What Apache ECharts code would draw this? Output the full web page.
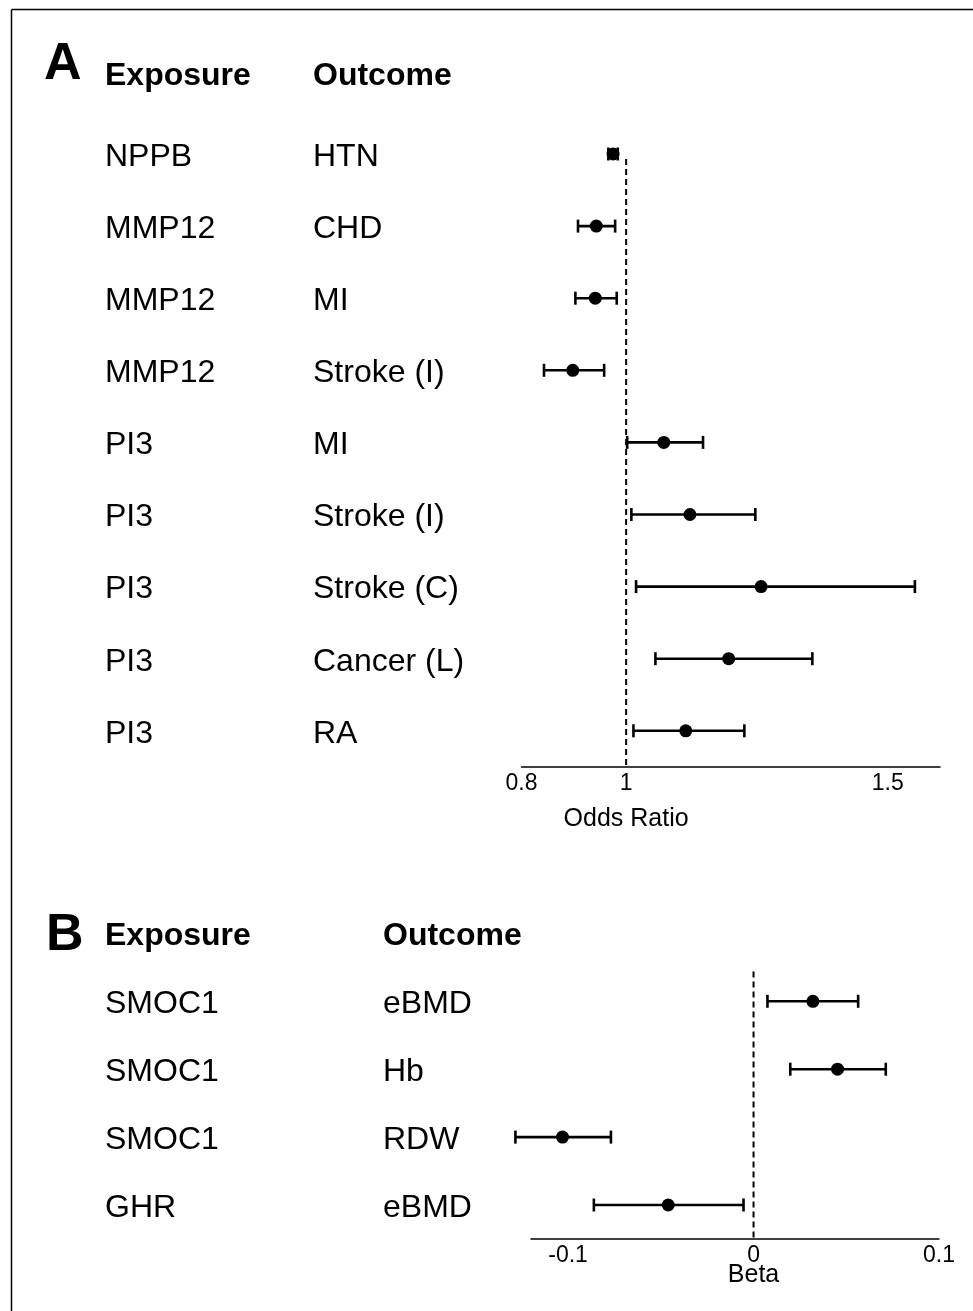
<!DOCTYPE html>
<html>
<head>
<meta charset="utf-8">
<script src="https://cdn.jsdelivr.net/npm/echarts@6/dist/echarts.min.js"></script>
<style>
  html, body { margin: 0; padding: 0; background: #fff; }
  #main { width: 973px; height: 1311px; }
</style>
</head>
<body>
<div id="main"></div>
<script>
// panel A: odds ratios
const exposureA = ['NPPB', 'MMP12', 'MMP12', 'MMP12', 'PI3', 'PI3', 'PI3', 'PI3', 'PI3'];
const outcomeA = ['HTN', 'CHD', 'MI', 'Stroke (I)', 'MI', 'Stroke (I)', 'Stroke (C)', 'Cancer (L)', 'RA'];
const orA = [0.975, 0.943, 0.941, 0.898, 1.072, 1.122, 1.258, 1.196, 1.114];
const lowerA = [0.966, 0.908, 0.903, 0.843, 1.002, 1.010, 1.019, 1.056, 1.014];
const upperA = [0.984, 0.979, 0.982, 0.958, 1.147, 1.247, 1.552, 1.356, 1.226];
const ticksA = [0.8, 1, 1.5];
const refA = [0.07, 8.5];

// panel B: beta
const exposureB = ['SMOC1', 'SMOC1', 'SMOC1', 'GHR'];
const outcomeB = ['eBMD', 'Hb', 'RDW', 'eBMD'];
const betaB = [0.032, 0.0453, -0.103, -0.046];
const lowerB = [0.0075, 0.0198, -0.1284, -0.0861];
const upperB = [0.0564, 0.0713, -0.0769, -0.0054];
const ticksB = [-0.1, 0, 0.1];
const refB = [-0.44, 3.5];

const FONT = '"Liberation Sans", Arial, sans-serif';

const chart = echarts.init(document.getElementById('main'));

function ciSeries(lo, hi, xi, yi) {
  return {
    type: 'custom',
    xAxisIndex: xi, yAxisIndex: yi,
    clip: false,
    data: lo.map((v, i) => [v, hi[i], i]),
    encode: {x: [0, 1], y: 2},
    renderItem: (params, api) => {
      const a = api.coord([api.value(0), api.value(2)]);
      const b = api.coord([api.value(1), api.value(2)]);
      const st = {stroke: '#000', lineWidth: 2.6};
      return {
        type: 'group',
        children: [
          {type: 'line', shape: {x1: a[0], y1: a[1], x2: b[0], y2: b[1]}, style: st},
          {type: 'line', shape: {x1: a[0], y1: a[1] - 6.5, x2: a[0], y2: a[1] + 6.5}, style: st},
          {type: 'line', shape: {x1: b[0], y1: b[1] - 6.5, x2: b[0], y2: b[1] + 6.5}, style: st}
        ]
      };
    },
    z: 3
  };
}

// headerRow: row position used for the bold column headers
function textSeries(labels, col, xi, yi, headerRow) {
  const bold = headerRow !== undefined;
  return {
    type: 'custom',
    xAxisIndex: xi, yAxisIndex: yi,
    clip: false,
    silent: true,
    data: labels.map((t, i) => [col, bold ? headerRow : i]),
    renderItem: (params, api) => {
      const p = api.coord([api.value(0), api.value(1)]);
      return {
        type: 'text', x: p[0], y: p[1] + 3,
        style: {
          text: labels[params.dataIndex],
          fill: '#000',
          font: (bold ? 'bold 32px ' : '32px ') + FONT,
          align: 'left', verticalAlign: 'middle'
        }
      };
    }
  };
}

function refSeries(x, rows, xi, yi) {
  return {
    type: 'line', xAxisIndex: xi, yAxisIndex: yi,
    data: rows.map(r => [x, r]),
    symbol: 'none', silent: true,
    lineStyle: {color: '#000', width: 2, type: [6, 4]},
    z: 1
  };
}

function pointSeries(vals, xi, yi) {
  return {
    type: 'scatter', xAxisIndex: xi, yAxisIndex: yi, clip: false,
    data: vals.map((v, i) => [v, i]),
    symbol: 'circle', symbolSize: 13,
    itemStyle: {color: '#000', opacity: 1},
    z: 4
  };
}

function plotXAxis(grid, min, max, ticks) {
  return {
    gridIndex: grid, type: 'value', min: min, max: max, position: 'bottom',
    splitLine: {show: false}, axisTick: {show: false},
    axisLine: {onZero: false, lineStyle: {color: '#000', width: 1.5}},
    axisLabel: {customValues: ticks, color: '#000', fontSize: 23, fontFamily: FONT, margin: 5}
  };
}

const option = {
  animation: false,
  backgroundColor: '#fff',
  grid: [
    {left: 521.5, width: 418.5, top: 45.85, height: 721},   // A plot
    {left: 105, width: 208, top: 45.85, height: 721},       // A text
    {left: 531, width: 408, top: 899.45, height: 339.5},    // B plot
    {left: 105, width: 278, top: 899.45, height: 339.5}     // B text
  ],
  xAxis: [
    plotXAxis(0, 0.8, 1.6, ticksA),
    {gridIndex: 1, type: 'value', min: 0, max: 1, show: false},
    plotXAxis(2, -0.12, 0.1, ticksB),
    {gridIndex: 3, type: 'value', min: 0, max: 1, show: false}
  ],
  yAxis: [
    {gridIndex: 0, type: 'value', min: -1.5, max: 8.5, inverse: true, show: false},
    {gridIndex: 1, type: 'value', min: -1.5, max: 8.5, inverse: true, show: false},
    {gridIndex: 2, type: 'value', min: -1.5, max: 3.5, inverse: true, show: false},
    {gridIndex: 3, type: 'value', min: -1.5, max: 3.5, inverse: true, show: false}
  ],
  series: [
    refSeries(1, refA, 0, 0),
    ciSeries(lowerA, upperA, 0, 0),
    pointSeries(orA, 0, 0),
    textSeries(['Exposure'], 0, 1, 1, -1.12),
    textSeries(['Outcome'], 1, 1, 1, -1.12),
    textSeries(exposureA, 0, 1, 1),
    textSeries(outcomeA, 1, 1, 1),

    refSeries(0, refB, 2, 2),
    ciSeries(lowerB, upperB, 2, 2),
    pointSeries(betaB, 2, 2),
    textSeries(['Exposure'], 0, 3, 3, -1),
    textSeries(['Outcome'], 1, 3, 3, -1),
    textSeries(exposureB, 0, 3, 3),
    textSeries(outcomeB, 1, 3, 3)
  ]
};

chart.setOption(option);

// axis titles centred on the reference value, panel letters, frame
const pA = chart.convertToPixel({gridIndex: 0}, [1, 8.5]);
const pB = chart.convertToPixel({gridIndex: 2}, [0, 3.5]);
chart.setOption({
  graphic: [
    {type: 'line', shape: {x1: 11.5, y1: 9.5, x2: 973, y2: 9.5}, style: {stroke: '#000', lineWidth: 1.5}},
    {type: 'line', shape: {x1: 11.5, y1: 9.5, x2: 11.5, y2: 1311}, style: {stroke: '#000', lineWidth: 1.5}},
    {type: 'text', x: 44, y: 65, style: {text: 'A', font: 'bold 52px ' + FONT, fill: '#000', verticalAlign: 'middle'}},
    {type: 'text', x: 46, y: 936, style: {text: 'B', font: 'bold 52px ' + FONT, fill: '#000', verticalAlign: 'middle'}},
    {type: 'text', x: pA[0], y: pA[1] + 52, style: {text: 'Odds Ratio', font: '25px ' + FONT, fill: '#000', align: 'center', verticalAlign: 'middle'}},
    {type: 'text', x: pB[0], y: pB[1] + 36, style: {text: 'Beta', font: '25px ' + FONT, fill: '#000', align: 'center', verticalAlign: 'middle'}}
  ]
});
</script>
</body>
</html>
